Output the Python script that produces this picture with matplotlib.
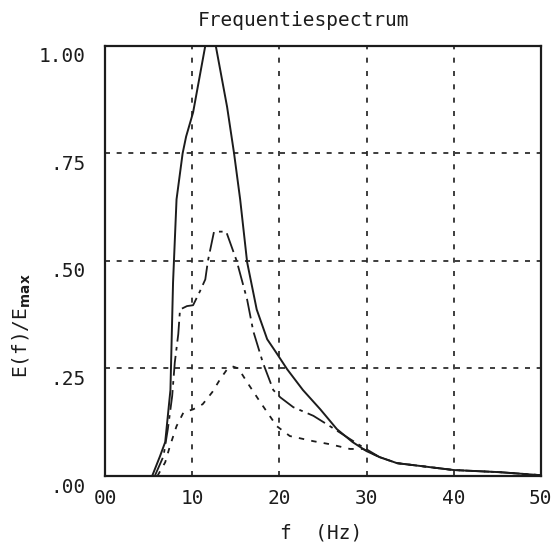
import matplotlib
matplotlib.use("Agg")
import matplotlib.pyplot as plt
from matplotlib.transforms import ScaledTranslation

# Frequency axis ticks and labels
x_ticks = [0, 10, 20, 30, 40, 50]
x_labels = ["00", "10", "20", "30", "40", "50"]
y_ticks = [0.0, 0.25, 0.5, 0.75, 1.0]
y_labels = [".00", ".25", ".50", ".75", "1.00"]

# Solid curve
solid_f = [5.4, 6.3, 6.9, 7.5, 7.8, 8.2, 8.9, 9.3, 10.1, 11.5, 12.7, 14.0, 14.8, 15.5,
           16.3, 17.4, 18.6, 19.7, 20.9, 22.7, 24.7, 26.6, 28.4, 30.0, 31.5, 33.5,
           40.0, 45.3, 50.0]
solid_E = [0.0, 0.046, 0.079, 0.2, 0.45, 0.643, 0.75, 0.789, 0.845, 1.0, 1.0, 0.858,
           0.75, 0.643, 0.497, 0.387, 0.318, 0.285, 0.248, 0.2, 0.155, 0.109, 0.079,
           0.058, 0.044, 0.03, 0.014, 0.009, 0.002]

# Dash-dot curve
dashdot_f = [5.7, 6.7, 7.2, 7.7, 8.0, 8.4, 8.6, 9.4, 10.1, 10.9, 11.5, 11.8, 12.5, 13.9,
             15.1, 16.3, 17.0, 18.1, 19.3, 20.1, 21.6, 23.9, 25.8, 28.1, 29.6, 31.5,
             33.5, 40.0, 45.3, 50.0]
dashdot_E = [0.0, 0.046, 0.109, 0.186, 0.264, 0.33, 0.387, 0.395, 0.397, 0.43, 0.457,
             0.5, 0.568, 0.568, 0.5, 0.41, 0.337, 0.264, 0.2, 0.183, 0.16, 0.14, 0.116,
             0.086, 0.067, 0.044, 0.03, 0.014, 0.009, 0.002]

# Dotted curve
dotted_f = [6.0, 6.9, 7.45, 8.2, 9.0, 10.1, 11.2, 12.3, 13.2, 14.0, 14.6, 15.3, 16.3,
            17.8, 19.7, 21.2, 23.9, 25.8, 28.1, 29.6, 31.5, 33.5, 40.0, 45.3, 50.0]
dotted_E = [0.0, 0.032, 0.07, 0.116, 0.148, 0.155, 0.167, 0.195, 0.225, 0.248, 0.255,
            0.25, 0.218, 0.172, 0.116, 0.093, 0.081, 0.074, 0.063, 0.063, 0.044, 0.03,
            0.014, 0.009, 0.002]

ink = "#1c1c1c"
mono = "DejaVu Sans Mono"

fig = plt.figure(figsize=(5.53, 5.51), dpi=100)
ax = fig.add_axes([0.190, 0.136, 0.788, 0.781])

ax.plot(solid_f, solid_E, color=ink, lw=1.4, ls="-", solid_capstyle="butt")
ax.plot(dashdot_f, dashdot_E, color=ink, lw=1.3, ls=(0, (11, 3, 2, 3)))
ax.plot(dotted_f, dotted_E, color=ink, lw=1.3, ls=(0, (3, 4)))

ax.set_xlim(0, 50)
ax.set_ylim(0, 1.0)
ax.set_xticks(x_ticks)
ax.set_xticklabels(x_labels, family=mono, fontsize=14, color=ink)
ax.set_yticks(y_ticks)
ax.set_yticklabels(y_labels, family=mono, fontsize=14, color=ink)
ax.tick_params(length=0)
ax.tick_params(axis="x", pad=9)
ax.tick_params(axis="y", pad=14)

for lab in ax.get_yticklabels():
    lab.set_transform(lab.get_transform() + ScaledTranslation(0, -9 / 100, fig.dpi_scale_trans))

for g in [10, 20, 30, 40]:
    ax.axvline(g, color=ink, lw=1.2, ls=(0, (3, 5)), zorder=0)
for g in [0.25, 0.5, 0.75]:
    ax.axhline(g, color=ink, lw=1.2, ls=(0, (3, 4)), zorder=0)

for s in ax.spines.values():
    s.set_linewidth(1.6)
    s.set_color(ink)

ax.set_title("Frequentiespectrum", family=mono, fontsize=14, color=ink,
             x=0.456, pad=14)
ax.set_xlabel("f  (Hz)", family=mono, fontsize=14, color=ink)
ax.xaxis.set_label_coords(0.495, -0.11)
ax.set_ylabel(r"E(f)/E$_{\mathbf{max}}$", family=mono, fontsize=14, color=ink)
ax.yaxis.set_label_coords(-0.165, 0.35)

fig.savefig("out.png", dpi=100, facecolor="white")
